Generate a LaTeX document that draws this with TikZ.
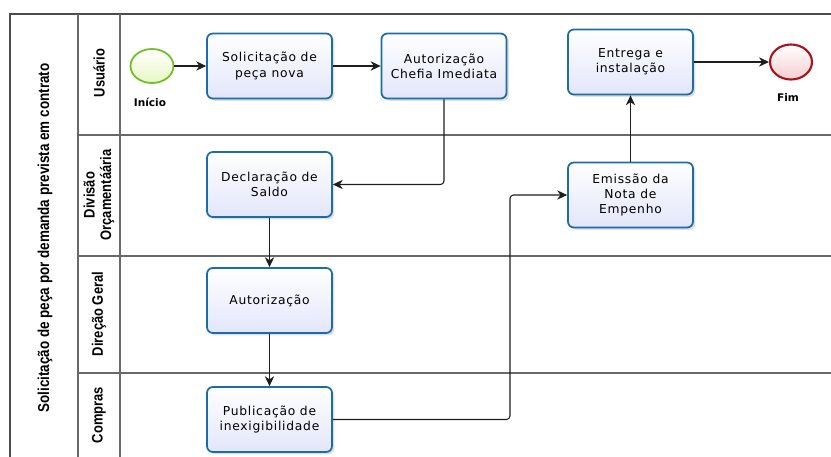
\documentclass[tikz,border=0pt]{standalone}
\usepackage{fontspec}
\setmainfont{DejaVu Sans}
\newfontfamily\lanefont[FakeStretch=0.85]{Liberation Sans}
\newfontfamily\taskfont[LetterSpace=6]{DejaVu Sans}
\usetikzlibrary{arrows.meta, positioning, shapes.geometric, shadows}

\begin{document}
\begin{tikzpicture}[x=0.03cm, y=-0.03cm,
  task/.style={draw=taskborder, line width=1.5pt, rounded corners=5pt,
    top color=white, bottom color=taskfill, align=center,
    minimum width=3.75cm, minimum height=1.95cm, inner sep=1pt,
    font=\taskfont\fontsize{10.5}{13}\selectfont,
    drop shadow={opacity=0.25, shadow xshift=2pt, shadow yshift=-2pt}},
  startev/.style={ellipse, draw=startborder, line width=1.5pt,
    top color=white, bottom color=startfill,
    minimum width=1.29cm, minimum height=1.02cm, inner sep=0pt},
  endev/.style={ellipse, draw=endborder, line width=1.8pt,
    top color=white, bottom color=endfill,
    minimum width=1.26cm, minimum height=1.05cm, inner sep=0pt},
  evlabel/.style={font=\fontsize{9}{11}\selectfont\bfseries},
  lanelabel/.style={rotate=90, align=center, font=\lanefont\fontsize{13}{14}\selectfont\bfseries},
  flow/.style={draw=flowcolor, line width=0.9pt, rounded corners=3pt,
    -{Stealth[length=8.5pt, width=8pt]}},
  laneline/.style={draw=lanecolor, line width=0.9pt}]
  % Define colors
  \definecolor{taskborder}{RGB}{28, 108, 165}
  \definecolor{taskfill}{RGB}{226, 230, 250}
  \definecolor{startborder}{RGB}{115, 190, 40}
  \definecolor{startfill}{RGB}{230, 248, 195}
  \definecolor{endborder}{RGB}{165, 20, 30}
  \definecolor{endfill}{RGB}{245, 205, 210}
  \definecolor{flowcolor}{RGB}{30, 30, 30}
  \definecolor{lanecolor}{RGB}{105, 105, 105}

  \useasboundingbox (0,0) rectangle (831,457);

  % Pool and lanes
  \draw[laneline, draw=black!70] (831,14) -- (10,14) -- (10,457);
  \draw[laneline] (78,14) -- (78,457);
  \draw[laneline] (120,14) -- (120,457);
  \foreach \y in {135,256,373} {
    \draw[laneline] (78,\y) -- (831,\y);
  }

  % Pool and lane titles
  \node[lanelabel, font=\lanefont\fontsize{13.5}{15}\selectfont\bfseries] (pool) at (45,238) {Solicitação de peça por demanda prevista em contrato};
  \node[lanelabel] (lnUsuario) at (99,73) {Usuário};
  \node[lanelabel] (lnDivisao) at (99,195) {Divisão\\Orçamentáária};
  \node[lanelabel] (lnDirecao) at (99,314) {Direção Geral};
  \node[lanelabel] (lnCompras) at (99,415) {Compras};

  % Events
  \node[startev] (inicio) at (152,66) {};
  \node[evlabel] (inicioLbl) at (150,102) {Início};
  \node[endev] (fim) at (791,62) {};
  \node[evlabel] (fimLbl) at (788,97) {Fim};

  % Tasks
  \node[task] (solicitacao) at (269.5,66) {Solicitação de\\peça nova};
  \node[task] (chefia) at (444,66) {Autorização\\Chefia Imediata};
  \node[task] (entrega) at (630.5,62) {Entrega e\\instalação};
  \node[task] (saldo) at (269.5,184.5) {Declaração de\\Saldo};
  \node[task] (empenho) at (630.5,195) {Emissão da\\Nota de\\Empenho};
  \node[task] (autorizacao) at (269.5,300.5) {Autorização};
  \node[task] (publicacao) at (269.5,419.5) {Publicação de\\inexigibilidade};

  % Sequence flows
  \coordinate (turn) at (510,0);
  \draw[flow] (inicio) -- (solicitacao);
  \draw[flow] (solicitacao) -- (chefia);
  \draw[flow] (chefia.south) |- (saldo.east);
  \draw[flow] (saldo) -- (autorizacao);
  \draw[flow] (autorizacao) -- (publicacao);
  \draw[flow] (publicacao.east) -- (publicacao.east -| turn) |- (empenho.west);
  \draw[flow] (empenho) -- (entrega);
  \draw[flow] (entrega) -- (fim);
\end{tikzpicture}
\end{document}
